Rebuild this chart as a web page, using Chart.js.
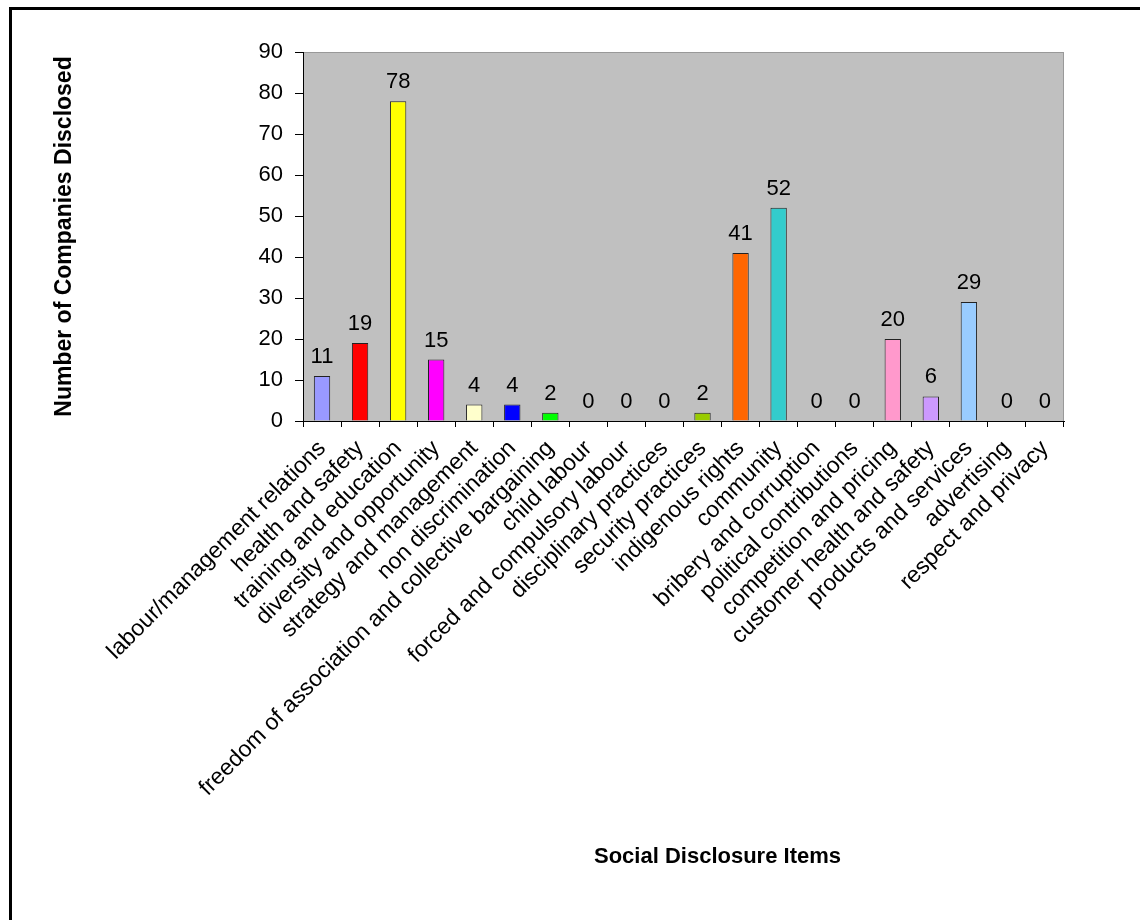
<!DOCTYPE html>
<html>
<head>
<meta charset="utf-8">
<script src="https://cdn.jsdelivr.net/npm/chart.js@4"></script>
<style>
  html, body { margin: 0; padding: 0; background: #fff; overflow: hidden; }
  #frame {
    position: absolute; left: 9px; top: 7px;
    width: 1200px; height: 1000px;
    border: 3px solid #000;
  }
  #wrap { position: absolute; left: 0; top: 0; width: 1140px; height: 920px; }
</style>
</head>
<body>
<div id="frame"></div>
<div id="wrap"><canvas id="chart" width="1140" height="920"></canvas></div>
<script>
// data
const items = [
  "labour/management relations",
  "health and safety",
  "training and education",
  "diversity and opportunity",
  "strategy and management",
  "non discrimination",
  "freedom of association and collective bargaining",
  "child labour",
  "forced and compulsory labour",
  "disciplinary practices",
  "security practices",
  "indigenous rights",
  "community",
  "bribery and corruption",
  "political contributions",
  "competition and pricing",
  "customer health and safety",
  "products and services",
  "advertising",
  "respect and privacy"
];
const companies = [11, 19, 78, 15, 4, 4, 2, 0, 0, 0, 2, 41, 52, 0, 0, 20, 6, 29, 0, 0];
const barColors = [
  "#9999FF", "#FF0000", "#FFFF00", "#FF00FF", "#FFFFCC", "#0000FF", "#00FF00",
  "#C0C0C0", "#C0C0C0", "#C0C0C0", "#99CC00", "#FF6600", "#33CCCC",
  "#C0C0C0", "#C0C0C0", "#FF99CC", "#CC99FF", "#99CCFF", "#C0C0C0", "#C0C0C0"
];
const yTicks = [0, 10, 20, 30, 40, 50, 60, 70, 80, 90];

const FONT = "'Liberation Sans', Arial, sans-serif";

// grey plot area
const plotBg = {
  id: "plotBg",
  beforeDraw(chart) {
    const { ctx, chartArea: a } = chart;
    ctx.save();
    ctx.fillStyle = "#C0C0C0";
    ctx.fillRect(a.left, a.top, a.right - a.left, a.bottom - a.top);
    ctx.strokeStyle = "#999";
    ctx.lineWidth = 1;
    ctx.strokeRect(a.left + 0.5, a.top + 0.5, a.right - a.left - 1, a.bottom - a.top);
    ctx.restore();
  }
};

// value labels over bars + x title
const valueLabels = {
  id: "valueLabels",
  afterDraw(chart) {
    const { ctx, chartArea: a } = chart;
    const meta = chart.getDatasetMeta(0);
    ctx.save();
    ctx.fillStyle = "#000";
    ctx.font = "22px " + FONT;
    ctx.textAlign = "center";
    ctx.textBaseline = "alphabetic";
    meta.data.forEach((bar, i) => {
      ctx.fillText(String(companies[i]), bar.x, bar.y - 13);
    });
    ctx.font = "bold 22px " + FONT;
    ctx.textBaseline = "middle";
    ctx.fillText("Social Disclosure Items", (a.left + a.right) / 2 + 34, 857);
    ctx.restore();
  }
};

new Chart(document.getElementById("chart"), {
  type: "bar",
  data: {
    labels: items,
    datasets: [{
      data: companies,
      backgroundColor: barColors,
      borderColor: "#222",
      borderWidth: 1,
      borderSkipped: "bottom",
      barPercentage: 0.43,
      categoryPercentage: 1
    }]
  },
  options: {
    responsive: false,
    animation: false,
    devicePixelRatio: 1,
    layout: { padding: { left: 44, top: 52, right: 76, bottom: 0 } },
    plugins: {
      legend: { display: false },
      tooltip: { enabled: false }
    },
    scales: {
      x: {
        offset: true,
        grid: {
          offset: true,
          drawOnChartArea: false,
          drawTicks: true,
          tickLength: 6,
          color: "#000"
        },
        border: { color: "#000", width: 1 },
        ticks: {
          color: "#000",
          font: { family: FONT, size: 23 },
          minRotation: 45,
          maxRotation: 45,
          autoSkip: false,
          padding: 8
        },
        afterFit(scale) { scale.height = 920 - 421; }
      },
      y: {
        min: 0,
        max: 90,
        afterBuildTicks(scale) { scale.ticks = yTicks.map(v => ({ value: v })); },
        grid: {
          drawOnChartArea: false,
          drawTicks: true,
          tickLength: 8,
          color: "#000"
        },
        border: { color: "#000", width: 1 },
        ticks: {
          color: "#000",
          font: { family: FONT, size: 22 },
          padding: 12
        },
        title: {
          display: true,
          text: "Number of Companies Disclosed",
          color: "#000",
          font: { family: FONT, size: 23, weight: "bold" },
          padding: { top: 7, bottom: 0 }
        },
        afterFit(scale) { scale.width = 303 - 44; }
      }
    }
  },
  plugins: [plotBg, valueLabels]
});
</script>
</body>
</html>
